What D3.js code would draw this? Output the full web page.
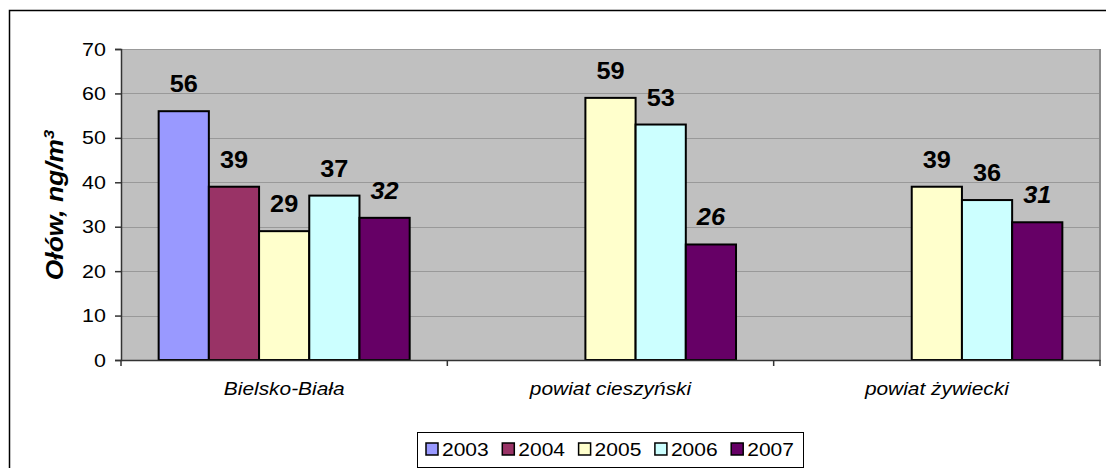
<!DOCTYPE html>
<html><head><meta charset="utf-8">
<script src="https://cdn.jsdelivr.net/npm/d3@7"></script>
<style>
html,body{margin:0;padding:0;background:#fff;}
svg{display:block;font-family:Arial,"Liberation Sans",sans-serif;}
</style></head>
<body>
<svg id="chart" width="1106" height="468"></svg>
<script>
const categories = ["Bielsko-Biała", "powiat cieszyński", "powiat żywiecki"];
const years = ["2003", "2004", "2005", "2006", "2007"];
const colors = ["#9999FF", "#993366", "#FFFFCC", "#CCFFFF", "#660066"];
const v2003 = [56, null, null];
const v2004 = [39, null, null];
const v2005 = [29, 59, 39];
const v2006 = [37, 53, 36];
const v2007 = [32, 26, 31];
const seriesValues = [v2003, v2004, v2005, v2006, v2007];
const yTicks = [0, 10, 20, 30, 40, 50, 60, 70];
const yTitle = "Ołów, ng/m";

const svg = d3.select("#chart");
const L = 121, R = 1100, T = 49, B = 360;
const SX = 1.13; // horizontal text stretch

// outer border
svg.append("rect").attr("x", 9.5).attr("y", 10.5).attr("width", 1120).attr("height", 520)
  .attr("fill", "#fff").attr("stroke", "#000").attr("stroke-width", 1.5);

const x0 = d3.scaleBand().domain(categories).range([L, R]).paddingInner(0).paddingOuter(0);
const x1 = d3.scaleBand().domain(years).range([0, x0.bandwidth()]).paddingInner(0).paddingOuter(0.75);
const y = d3.scaleLinear().domain([0, 70]).range([B, T]);

// plot area
svg.append("rect").attr("x", L).attr("y", T).attr("width", R - L).attr("height", B - T).attr("fill", "#C0C0C0");
// gridlines
svg.append("g").selectAll("line").data(yTicks.filter(d => d > 0)).join("line")
  .attr("x1", L).attr("x2", R).attr("y1", d => Math.round(y(d)) + 0.5).attr("y2", d => Math.round(y(d)) + 0.5)
  .attr("stroke", "#999").attr("stroke-width", 1);
// right edge
svg.append("line").attr("x1", R).attr("x2", R).attr("y1", T).attr("y2", B)
  .attr("stroke", "#888").attr("stroke-width", 2);

// bars
const data = [];
categories.forEach((c, ci) => years.forEach((yr, si) => {
  const v = seriesValues[si][ci];
  if (v != null) data.push({ c, yr, si, v });
}));
svg.append("g").selectAll("rect").data(data).join("rect")
  .attr("x", d => x0(d.c) + x1(d.yr))
  .attr("y", d => y(d.v))
  .attr("width", x1.bandwidth())
  .attr("height", d => B - y(d.v))
  .attr("fill", d => colors[d.si])
  .attr("stroke", "#000").attr("stroke-width", 2);

// data labels
svg.append("g").selectAll("text").data(data).join("text")
  .attr("transform", d => `translate(${x0(d.c) + x1(d.yr) + x1.bandwidth() / 2},${y(d.v) - 19}) scale(1.1,1)`)
  .attr("text-anchor", "middle")
  .attr("font-size", 23).attr("font-weight", "bold")
  .attr("font-style", d => d.yr === "2007" ? "italic" : "normal")
  .attr("fill", "#000")
  .text(d => d.v);

// y axis
const yAxis = svg.append("g").attr("transform", `translate(${L},0)`)
  .call(d3.axisLeft(y).tickValues(yTicks).tickSize(6).tickPadding(8).tickFormat(d3.format("d")));
yAxis.select(".domain").attr("stroke", "#333").attr("stroke-width", 1.5);
yAxis.selectAll(".tick line").attr("stroke", "#333").attr("stroke-width", 1.5);
yAxis.selectAll(".tick text").each(function () {
  const t = d3.select(this);
  const xx = +t.attr("x");
  t.attr("x", null).attr("transform", `translate(${xx - 1},0) scale(${SX},1)`);
}).attr("font-size", 19).attr("fill", "#000").attr("font-family", "Arial,'Liberation Sans',sans-serif");

// x axis
const xAxis = svg.append("g").attr("transform", `translate(0,${B})`)
  .call(d3.axisBottom(x0).tickSize(0).tickPadding(22));
xAxis.select(".domain").attr("stroke", "#333").attr("stroke-width", 1.5);
xAxis.selectAll(".tick text").each(function () {
  const t = d3.select(this);
  const yy = +t.attr("y");
  t.attr("y", null).attr("transform", `translate(0,${yy}) scale(${SX},1)`);
}).attr("font-size", 18.5).attr("font-style", "italic").attr("fill", "#000")
  .attr("font-family", "Arial,'Liberation Sans',sans-serif");
// category boundary ticks
const bounds = categories.map(c => x0(c)).concat([x0(categories[categories.length - 1]) + x0.bandwidth()]);
svg.append("g").selectAll("line").data(bounds).join("line")
  .attr("x1", d => d).attr("x2", d => d).attr("y1", B).attr("y2", B + 6)
  .attr("stroke", "#333").attr("stroke-width", 1.5);

// y title
const yt = svg.append("text").attr("transform", "translate(63,205) rotate(-90) scale(1.1,1)")
  .attr("text-anchor", "middle").attr("font-size", 24).attr("font-weight", "bold").attr("font-style", "italic");
yt.append("tspan").text(yTitle);
yt.append("tspan").attr("dy", -9).attr("font-size", 15).text("3");

// legend
const lg = svg.append("g");
lg.append("rect").attr("x", 417.5).attr("y", 432.5).attr("width", 386).attr("height", 35)
  .attr("fill", "#fff").attr("stroke", "#000").attr("stroke-width", 1);
const items = lg.selectAll("g").data(years).join("g")
  .attr("transform", (d, i) => `translate(${426 + i * 76.3},443)`);
items.append("rect").attr("width", 12).attr("height", 12)
  .attr("fill", (d, i) => colors[i]).attr("stroke", "#000").attr("stroke-width", 1.5);
items.append("text").attr("transform", `translate(16,12.5) scale(${SX},1)`).attr("font-size", 18.6).text(d => d);
</script>
</body></html>
